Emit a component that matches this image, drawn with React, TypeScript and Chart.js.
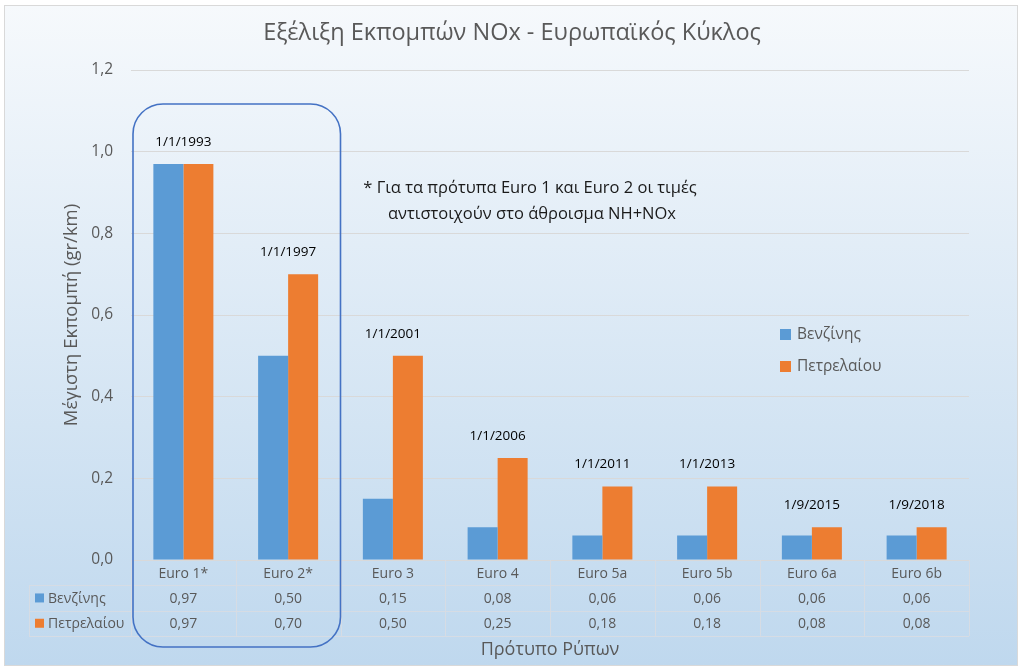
import React, { useEffect, useRef } from "react";
import { Chart, registerables } from "chart.js";

Chart.register(...registerables);

const categories = ["Euro 1*", "Euro 2*", "Euro 3", "Euro 4", "Euro 5a", "Euro 5b", "Euro 6a", "Euro 6b"];
const seriesNames = ["Βενζίνης", "Πετρελαίου"];
const petrolValues = [0.97, 0.5, 0.15, 0.08, 0.06, 0.06, 0.06, 0.06];
const dieselValues = [0.97, 0.7, 0.5, 0.25, 0.18, 0.18, 0.08, 0.08];
const launchDates = ["1/1/1993", "1/1/1997", "1/1/2001", "1/1/2006", "1/1/2011", "1/1/2013", "1/9/2015", "1/9/2018"];
const yMax = 1.2;
const yStep = 0.2;
const chartTitle = "Εξέλιξη Εκπομπών NOx - Ευρωπαϊκός Κύκλος";
const yAxisTitle = "Μέγιστη Εκπομπή (gr/km)";
const xAxisTitle = "Πρότυπο Ρύπων";
const noteLines = ["* Για τα πρότυπα Euro 1 και Euro 2 οι τιμές", "αντιστοιχούν στο άθροισμα ΝΗ+NOx"];

const BLUE = "#5B9BD5";
const ORANGE = "#ED7D31";
const GRAY = "#595959";
const FONT = "'Open Sans', 'Noto Sans', sans-serif";

const fmt2 = (v: number) => v.toFixed(2).replace(".", ",");
const fmt1 = (v: number) => v.toFixed(1).replace(".", ",");

const decorPlugin = {
  id: "decor",
  beforeDraw(chart: any) {
    const { ctx, width, height } = chart;
    ctx.save();
    ctx.fillStyle = "#ffffff";
    ctx.fillRect(0, 0, width, height);
    const g = ctx.createLinearGradient(0, 5, 0, 665);
    g.addColorStop(0, "#F6F9FC");
    g.addColorStop(1, "#BFD8EE");
    ctx.fillStyle = g;
    ctx.fillRect(4.5, 5.5, 1013, 660);
    ctx.strokeStyle = "#D9D9D9";
    ctx.lineWidth = 1;
    ctx.strokeRect(4.5, 5.5, 1013, 660);
    ctx.restore();
  },
  afterDraw(chart: any) {
    const { ctx, chartArea } = chart;
    const xs = chart.scales.x;
    const ys = chart.scales.y;
    const step = xs.getPixelForValue(1) - xs.getPixelForValue(0);
    const left = chartArea.left;
    const right = chartArea.right;
    const bottom = chartArea.bottom;
    const rowH = 25.3;
    const tableLeft = 29;
    ctx.save();

    // Title
    ctx.fillStyle = GRAY;
    ctx.font = `23.5px ${FONT}`;
    ctx.textAlign = "center";
    ctx.textBaseline = "middle";
    ctx.fillText(chartTitle, 512, 33);

    // Y title
    ctx.save();
    ctx.translate(72, (chartArea.top + chartArea.bottom) / 2);
    ctx.rotate(-Math.PI / 2);
    ctx.font = `18.5px ${FONT}`;
    ctx.fillText(yAxisTitle, 0, 0);
    ctx.restore();

    // X title
    ctx.font = `18px ${FONT}`;
    ctx.fillText(xAxisTitle, (left + right) / 2, 650);

    // Table lines
    ctx.strokeStyle = "#D6DCE4";
    ctx.lineWidth = 1;
    ctx.beginPath();
    for (let r = 1; r <= 3; r++) {
      const y = Math.round(bottom + rowH * r) + 0.5;
      ctx.moveTo(tableLeft, y);
      ctx.lineTo(right, y);
    }
    const xl = tableLeft + 0.5;
    ctx.moveTo(xl, bottom + rowH);
    ctx.lineTo(xl, bottom + rowH * 3);
    for (let i = 0; i <= categories.length; i++) {
      const x = Math.round(left + step * i) + 0.5;
      ctx.moveTo(x, bottom);
      ctx.lineTo(x, bottom + rowH * 3);
    }
    ctx.stroke();

    // Table text
    ctx.fillStyle = GRAY;
    ctx.font = `14px ${FONT}`;
    ctx.textAlign = "center";
    categories.forEach((c, i) => {
      const cx = xs.getPixelForValue(i);
      ctx.fillText(c, cx, bottom + rowH * 0.5 + 1);
      ctx.fillText(fmt2(petrolValues[i]), cx, bottom + rowH * 1.5 + 1);
      ctx.fillText(fmt2(dieselValues[i]), cx, bottom + rowH * 2.5 + 1);
    });
    ctx.textAlign = "left";
    [BLUE, ORANGE].forEach((col, k) => {
      const cy = bottom + rowH * (1.5 + k);
      ctx.fillStyle = col;
      ctx.fillRect(35, cy - 4.5, 9, 9);
      ctx.fillStyle = GRAY;
      ctx.fillText(seriesNames[k], 48, cy + 1);
    });

    // Legend
    ctx.font = `15.5px ${FONT}`;
    [BLUE, ORANGE].forEach((col, k) => {
      const cy = 334 + k * 32;
      ctx.fillStyle = col;
      ctx.fillRect(780, cy - 5, 11, 11);
      ctx.fillStyle = GRAY;
      ctx.fillText(seriesNames[k], 797, cy + 1);
    });

    // Date labels
    ctx.fillStyle = "#000000";
    ctx.font = `13.5px ${FONT}`;
    ctx.textAlign = "center";
    launchDates.forEach((d, i) => {
      const top = ys.getPixelForValue(Math.max(petrolValues[i], dieselValues[i]));
      ctx.fillText(d, xs.getPixelForValue(i), top - 22);
    });

    // Note
    ctx.font = `16.5px ${FONT}`;
    ctx.fillStyle = "#1a1a1a";
    ctx.fillText(noteLines[0], 530, 188);
    ctx.fillText(noteLines[1], 532, 214);

    // Rounded rectangle around Euro 1 / Euro 2
    const rx0 = left + 2;
    const rx1 = left + step * 2;
    const ry0 = 104;
    const ry1 = 647;
    const rad = 30;
    ctx.strokeStyle = "#4472C4";
    ctx.lineWidth = 1.6;
    ctx.beginPath();
    ctx.roundRect(rx0, ry0, rx1 - rx0, ry1 - ry0, rad);
    ctx.stroke();

    ctx.restore();
  },
};

export default function App() {
  const ref = useRef<HTMLCanvasElement | null>(null);
  useEffect(() => {
    if (!ref.current) return;
    const chart = new Chart(ref.current, {
      type: "bar",
      data: {
        labels: categories,
        datasets: [
          { label: seriesNames[0], data: petrolValues, backgroundColor: BLUE, categoryPercentage: 0.573, barPercentage: 1 },
          { label: seriesNames[1], data: dieselValues, backgroundColor: ORANGE, categoryPercentage: 0.573, barPercentage: 1 },
        ],
      },
      options: {
        animation: false,
        responsive: false,
        devicePixelRatio: 1,
        layout: { padding: { top: 70, right: 55, bottom: 111, left: 0 } },
        plugins: { legend: { display: false }, title: { display: false }, tooltip: { enabled: false } },
        scales: {
          x: { display: false },
          y: {
            min: 0,
            max: yMax,
            ticks: {
              stepSize: yStep,
              padding: 18,
              color: GRAY,
              font: { family: FONT, size: 15.5 },
              callback: (v: any) => fmt1(Number(v)),
            },
            grid: { color: "#D9D9D9", drawTicks: false },
            border: { display: false },
            afterFit: (scale: any) => {
              scale.width = 131;
            },
          },
        },
      },
      plugins: [decorPlugin],
    });
    return () => chart.destroy();
  }, []);
  return (
    <div style={{ position: "fixed", left: 0, top: 0, width: 1024, height: 671 }}>
      <canvas ref={ref} width={1024} height={671} style={{ width: 1024, height: 671 }} />
    </div>
  );
}
